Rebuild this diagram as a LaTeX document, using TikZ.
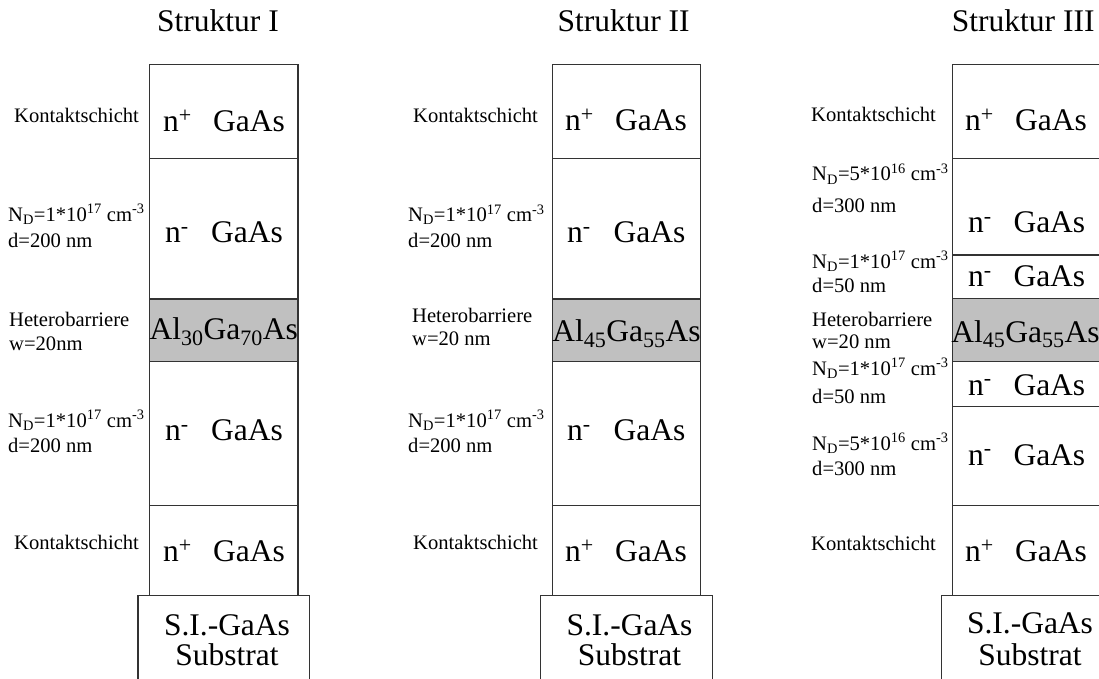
\documentclass[tikz,border=0pt]{standalone}
\usepackage{fontspec}
\setmainfont{Liberation Serif}
\definecolor{barriergray}{HTML}{C0C0C0}
\definecolor{linegray}{HTML}{333333}
\tikzset{
  layer/.style={draw=linegray, line width=1.1pt},
  barrier/.style={layer, fill=barriergray},
  big/.style={font=\fontsize{31.5}{36}\selectfont, inner sep=0pt, anchor=base west},
  bigc/.style={font=\fontsize{31.5}{36}\selectfont, inner sep=0pt, anchor=base},
  lbl/.style={font=\fontsize{20.6}{25}\selectfont, inner sep=0pt, anchor=base west},
}
\newcommand{\ND}[2]{N\textsubscript{D}=#1*10\textsuperscript{#2} cm\textsuperscript{-3}}
\begin{document}
\begin{tikzpicture}[x=1pt,y=-1pt]
\useasboundingbox (0,0) rectangle (1099,679);
\begin{scope}
\clip (0,0) rectangle (1099,679);
% ---------- Struktur I ----------
\draw[layer] (149.5,64.7) rectangle (298,158.3);
\draw[layer] (149.5,158.3) rectangle (298,299);
\draw[barrier] (149.5,299) rectangle (298,361.7);
\draw[layer] (149.5,361.7) rectangle (298,505.3);
\draw[layer] (149.5,505.3) rectangle (298,595.7);
\draw[layer] (138,690) -- (138,595.7) -- (309.3,595.7) -- (309.3,690);
% ---------- Struktur II ----------
\draw[layer] (552.3,64.7) rectangle (700.7,158.3);
\draw[layer] (552.3,158.3) rectangle (700.7,299);
\draw[barrier] (552.3,299) rectangle (700.7,361.7);
\draw[layer] (552.3,361.7) rectangle (700.7,505.3);
\draw[layer] (552.3,505.3) rectangle (700.7,595.7);
\draw[layer] (540.8,690) -- (540.8,595.7) -- (712.2,595.7) -- (712.2,690);
% ---------- Struktur III ----------
\draw[layer] (952.7,64.7) rectangle (1101.2,158.3);
\draw[layer] (952.7,158.3) rectangle (1101.2,255);
\draw[layer] (952.7,255) rectangle (1101.2,298.6);
\draw[barrier] (952.7,298.6) rectangle (1101.2,361.7);
\draw[layer] (952.7,361.7) rectangle (1101.2,406.7);
\draw[layer] (952.7,406.7) rectangle (1101.2,505.3);
\draw[layer] (952.7,505.3) rectangle (1101.2,595.7);
\draw[layer] (941.7,690) -- (941.7,595.7) -- (1113,595.7) -- (1113,690);
\end{scope}

% ===== texts Struktur I =====
\node[big] (t1) at (157,31.7) {Struktur I};
\node[lbl] (k1a) at (14,123) {Kontaktschicht};
\node[big] (n1a) at (163,131.7) {n\textsuperscript{+}};
\node[big] (g1a) at (213,131.7) {GaAs};
\node[lbl] (l1b1) at (8,221) {\ND{1}{17}};
\node[lbl] (l1b2) at (8,247) {d=200 nm};
\node[big] (n1b) at (165,242.7) {n\textsuperscript{-}};
\node[big] (g1b) at (211,242.7) {GaAs};
\node[lbl] (h1a) at (9,326.7) {Heterobarriere};
\node[lbl] (h1b) at (9,350) {w=20nm};
\node[bigc] (b1) at (223.7,339.3) {Al\textsubscript{30}Ga\textsubscript{70}As};
\node[lbl] (l1d1) at (8,427) {\ND{1}{17}};
\node[lbl] (l1d2) at (8,452) {d=200 nm};
\node[big] (n1d) at (165,440.7) {n\textsuperscript{-}};
\node[big] (g1d) at (211,440.7) {GaAs};
\node[lbl] (k1e) at (14,549) {Kontaktschicht};
\node[big] (n1e) at (163,561.7) {n\textsuperscript{+}};
\node[big] (g1e) at (213,561.7) {GaAs};
\node[bigc] (s1a) at (227,635) {S.I.-GaAs};
\node[bigc] (s1b) at (227,665) {Substrat};

% ===== texts Struktur II =====
\node[big] (t2) at (557.3,31.7) {Struktur II};
\node[lbl] (k2a) at (413,122.7) {Kontaktschicht};
\node[big] (n2a) at (565,131) {n\textsuperscript{+}};
\node[big] (g2a) at (615,131) {GaAs};
\node[lbl] (l2b1) at (408,221.7) {\ND{1}{17}};
\node[lbl] (l2b2) at (408,247.5) {d=200 nm};
\node[big] (n2b) at (567,242.7) {n\textsuperscript{-}};
\node[big] (g2b) at (613.5,242.7) {GaAs};
\node[lbl] (h2a) at (412,322) {Heterobarriere};
\node[lbl] (h2b) at (412,345) {w=20 nm};
\node[bigc] (b2) at (626.5,341.5) {Al\textsubscript{45}Ga\textsubscript{55}As};
\node[lbl] (l2d1) at (408,427) {\ND{1}{17}};
\node[lbl] (l2d2) at (408,452) {d=200 nm};
\node[big] (n2d) at (567,440.7) {n\textsuperscript{-}};
\node[big] (g2d) at (613.5,440.7) {GaAs};
\node[lbl] (k2e) at (413,549) {Kontaktschicht};
\node[big] (n2e) at (565,561.7) {n\textsuperscript{+}};
\node[big] (g2e) at (615,561.7) {GaAs};
\node[bigc] (s2a) at (629.5,635) {S.I.-GaAs};
\node[bigc] (s2b) at (629.5,665) {Substrat};

% ===== texts Struktur III =====
\node[big] (t3) at (951.7,31.7) {Struktur III};
\node[lbl] (k3a) at (811,121.7) {Kontaktschicht};
\node[big] (n3a) at (965,131) {n\textsuperscript{+}};
\node[big] (g3a) at (1015,131) {GaAs};
\node[lbl] (l3b1) at (812,181) {\ND{5}{16}};
\node[lbl] (l3b2) at (812,212) {d=300 nm};
\node[big] (n3b) at (968,232.7) {n\textsuperscript{-}};
\node[big] (g3b) at (1013.3,232.7) {GaAs};
\node[lbl] (l3c1) at (812,268) {\ND{1}{17}};
\node[lbl] (l3c2) at (812,292.7) {d=50 nm};
\node[big] (n3c) at (968,286.7) {n\textsuperscript{-}};
\node[big] (g3c) at (1013.3,286.7) {GaAs};
\node[lbl] (h3a) at (812,326.7) {Heterobarriere};
\node[lbl] (h3b) at (812,348.3) {w=20 nm};
\node[bigc] (b3) at (1025.5,342) {Al\textsubscript{45}Ga\textsubscript{55}As};
\node[lbl] (l3d1) at (812,375) {\ND{1}{17}};
\node[lbl] (l3d2) at (812,403.3) {d=50 nm};
\node[big] (n3d) at (968,395) {n\textsuperscript{-}};
\node[big] (g3d) at (1013.3,395) {GaAs};
\node[lbl] (l3e1) at (812,450) {\ND{5}{16}};
\node[lbl] (l3e2) at (812,475) {d=300 nm};
\node[big] (n3e) at (968,465) {n\textsuperscript{-}};
\node[big] (g3e) at (1013.3,465) {GaAs};
\node[lbl] (k3f) at (811,550) {Kontaktschicht};
\node[big] (n3f) at (965,561.7) {n\textsuperscript{+}};
\node[big] (g3f) at (1015,561.7) {GaAs};
\node[bigc] (s3a) at (1030,633.3) {S.I.-GaAs};
\node[bigc] (s3b) at (1030,665) {Substrat};
\end{tikzpicture}
\end{document}
